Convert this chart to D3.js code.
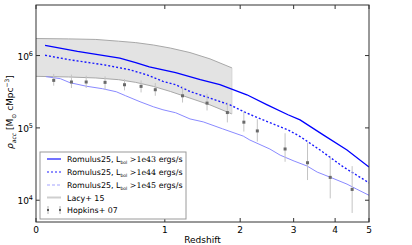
<!DOCTYPE html>
<html><head><meta charset="utf-8">
<script src="https://cdn.jsdelivr.net/npm/d3@7"></script>
<style>body{margin:0;background:#fff}svg{display:block}text{font-family:"DejaVu Sans",sans-serif;fill:#000}</style>
</head><body><svg id="c" width="412" height="245"></svg>
<script>
// ---- data ----
const xTicks = [0, 1, 2, 3, 4, 5];
const yTicks = [1e4, 1e5, 1e6];
const yTickExp = ["4", "5", "6"];

const romZ43 = [0.05,0.25,0.57,0.71,0.84,1.12,1.42,1.69,2.11,2.47,2.88,3.14,3.69,4.33,5.0];
const romV43 = [1.38e6,1.14e6,9.2e5,8.0e5,7.0e5,5.8e5,4.64e5,3.95e5,2.87e5,2.08e5,1.52e5,1.29e5,8.0e4,4.95e4,2.87e4];

const romZ44 = [0.05,0.19,0.43,0.65,0.81,0.98,1.12,1.29,1.55,1.84,2.11,2.47,2.88,3.14,3.61,4.22,5.0];
const romV44 = [1.01e6,8.8e5,7.5e5,6.4e5,5.45e5,4.4e5,3.95e5,3.19e5,2.58e5,2.08e5,1.6e5,1.22e5,9.4e4,7.6e4,4.95e4,2.9e4,1.74e4];

const romZ45 = [0.055,0.14,0.20,0.31,0.43,0.54,0.62,0.75,0.88,0.98,1.12,1.29,1.46,1.73,2.05,2.16,2.52,2.72,3.01,3.30,3.54,3.86,4.33,4.62,5.0];
const romV45 = [5.11e5,4.79e5,4.22e5,3.77e5,3.48e5,3.16e5,2.78e5,2.30e5,1.96e5,1.78e5,1.62e5,1.33e5,1.21e5,9.7e4,7.7e4,6.8e4,5.1e4,4.2e4,3.48e4,2.97e4,2.45e4,2.09e4,1.67e4,1.42e4,1.17e4];

const lacyZ  = [0,0.19,0.38,0.56,0.71,0.88,1.06,1.29,1.55,1.87];
const lacyHi = [1.72e6,1.70e6,1.67e6,1.58e6,1.51e6,1.40e6,1.27e6,1.10e6,9.0e5,6.75e5];
const lacyLo = [5.16e5,5.06e5,4.90e5,4.64e5,4.26e5,3.75e5,3.19e5,2.58e5,2.08e5,1.56e5];

const hopZ  = [0.10,0.21,0.31,0.45,0.61,0.76,0.90,1.20,1.51,1.80,2.06,2.29,2.82,3.31,3.87,4.48];
const hopV  = [4.54e5,4.31e5,4.31e5,4.26e5,3.95e5,3.75e5,3.37e5,2.78e5,2.20e5,1.63e5,1.20e5,9.08e4,5.11e4,3.30e4,2.07e4,1.41e4];
const hopHi = [5.57e5,5.45e5,5.27e5,5.16e5,4.74e5,4.54e5,4.18e5,3.75e5,2.97e5,2.24e5,1.68e5,1.32e5,8.43e4,6.25e4,3.99e4,2.96e4];
const hopLo = [3.83e5,3.56e5,3.56e5,3.37e5,3.30e5,3.09e5,2.78e5,2.24e5,1.74e5,1.19e5,8.89e4,6.46e4,3.40e4,1.90e4,1.06e4,6.67e3];

const legendThr = ["1e43", "1e44", "1e45"];

// ---- layout ----
const L = 36, R = 369, T = 5, B = 222;
const svg = d3.select("#c");
const x = d3.scaleLog().domain([1, 6]).range([L, R]);   // x(1+z)
const y = d3.scaleLog().domain([5e3, 5e6]).range([B, T]);
const X = z => x(1 + z);

const plot = svg.append("g");
plot.append("defs").append("clipPath").attr("id", "clip")
  .append("rect").attr("x", L).attr("y", T).attr("width", R - L).attr("height", B - T);
const g = plot.append("g").attr("clip-path", "url(#clip)");

// Lacy band
const band = lacyZ.map((z, i) => ({ z, hi: lacyHi[i], lo: lacyLo[i] }));
g.append("path").datum(band)
  .attr("d", d3.area().x(d => X(d.z)).y0(d => y(d.lo)).y1(d => y(d.hi)))
  .attr("fill", "#e3e3e3").attr("stroke", "none");
["hi", "lo"].forEach(k => {
  g.append("path").datum(band)
    .attr("d", d3.line().x(d => X(d.z)).y(d => y(d[k])))
    .attr("fill", "none").attr("stroke", "#a8a8a8").attr("stroke-width", 1);
});
g.append("line").attr("x1", X(lacyZ[lacyZ.length - 1])).attr("x2", X(lacyZ[lacyZ.length - 1]))
  .attr("y1", y(lacyHi[lacyHi.length - 1])).attr("y2", y(lacyLo[lacyLo.length - 1]))
  .attr("stroke", "#d0d0d0").attr("stroke-width", 0.8);

// Romulus lines
const line = d3.line().x(d => X(d[0])).y(d => y(d[1]));
const series = [
  { z: romZ45, v: romV45, color: "#8a8aff", w: 1, dash: null },
  { z: romZ44, v: romV44, color: "#1a1aff", w: 1.4, dash: "2,2" },
  { z: romZ43, v: romV43, color: "#0000ff", w: 1.3, dash: null }
];
series.forEach(s => {
  g.append("path").datum(s.z.map((z, i) => [z, s.v[i]]))
    .attr("d", line).attr("fill", "none").attr("stroke", s.color)
    .attr("stroke-width", s.w).attr("stroke-dasharray", s.dash);
});

// Hopkins error bars
const hop = hopZ.map((z, i) => ({ z, v: hopV[i], hi: hopHi[i], lo: hopLo[i] }));
g.selectAll(".eb").data(hop).enter().append("line")
  .attr("x1", d => X(d.z)).attr("x2", d => X(d.z))
  .attr("y1", d => y(d.hi)).attr("y2", d => y(d.lo))
  .attr("stroke", "#c4c4c4").attr("stroke-width", 1);
g.selectAll(".pt").data(hop).enter().append("rect")
  .attr("x", d => X(d.z) - 1.5).attr("y", d => y(d.v) - 1.5)
  .attr("width", 3).attr("height", 3).attr("fill", "#6a6a6a");

// frame
svg.append("rect").attr("x", L).attr("y", T).attr("width", R - L).attr("height", B - T)
  .attr("fill", "none").attr("stroke", "#333").attr("stroke-width", 1);

// ticks (inward, all four sides)
const tk = svg.append("g").attr("stroke", "#333").attr("stroke-width", 1);
xTicks.forEach(t => {
  const px = X(t);
  tk.append("line").attr("x1", px).attr("x2", px).attr("y1", B).attr("y2", B - 4);
  tk.append("line").attr("x1", px).attr("x2", px).attr("y1", T).attr("y2", T + 4);
});
yTicks.forEach(t => {
  const py = y(t);
  tk.append("line").attr("x1", L).attr("x2", L + 4).attr("y1", py).attr("y2", py);
  tk.append("line").attr("x1", R).attr("x2", R - 4).attr("y1", py).attr("y2", py);
});

// tick labels
xTicks.forEach(t => {
  svg.append("text").attr("x", X(t)).attr("y", 233).attr("text-anchor", "middle")
    .attr("font-size", 9).text(t);
});
yTicks.forEach((t, i) => {
  const tx = svg.append("text").attr("x", 33).attr("y", y(t) + 4).attr("text-anchor", "end")
    .attr("font-size", 9);
  tx.append("tspan").text("10");
  tx.append("tspan").attr("dy", -4).attr("font-size", 6.5).text(yTickExp[i]);
});

// axis labels
svg.append("text").attr("x", (L + R) / 2).attr("y", 243).attr("text-anchor", "middle")
  .attr("font-size", 9).text("Redshift");
const yl = svg.append("text").attr("transform", "translate(13,112) rotate(-90)")
  .attr("text-anchor", "middle").attr("font-size", 9);
yl.append("tspan").attr("font-style", "italic").text("ρ");
yl.append("tspan").attr("dy", 2.5).attr("font-size", 6).attr("font-style", "italic").text("acc");
yl.append("tspan").attr("dy", -2.5).text(" [M");
yl.append("tspan").attr("dy", 2.5).attr("font-size", 6).text("⊙");
yl.append("tspan").attr("dy", -2.5).text(" cMpc");
yl.append("tspan").attr("dy", -4).attr("font-size", 6).text("−3");
yl.append("tspan").attr("dy", 4).text("]");

// legend
const lg = svg.append("g");
lg.append("rect").attr("x", 40).attr("y", 152).attr("width", 146).attr("height", 67)
  .attr("fill", "#fff").attr("stroke", "#9a9a9a").attr("stroke-width", 1);
const rows = [159, 172, 185, 197.5, 210];
const hStyles = [
  { color: "#5050ff", w: 1.6, dash: null },
  { color: "#6a6aff", w: 1.6, dash: "2,2" },
  { color: "#c2c2ff", w: 1.6, dash: "3,2" }
];
hStyles.forEach((s, i) => {
  lg.append("line").attr("x1", 47).attr("x2", 61).attr("y1", rows[i]).attr("y2", rows[i])
    .attr("stroke", s.color).attr("stroke-width", s.w).attr("stroke-dasharray", s.dash);
  const t = lg.append("text").attr("x", 67).attr("y", rows[i] + 3).attr("font-size", 7.9);
  t.append("tspan").text("Romulus25, L");
  t.append("tspan").attr("dy", 1.5).attr("font-size", 4.5).text("bol");
  t.append("tspan").attr("dy", -1.5).attr("font-family", "DejaVu Serif").text(" >" + legendThr[i]);
  t.append("tspan").text(" ergs/s");
});
lg.append("line").attr("x1", 47).attr("x2", 61).attr("y1", rows[3]).attr("y2", rows[3])
  .attr("stroke", "#cfcfcf").attr("stroke-width", 2);
lg.append("text").attr("x", 67).attr("y", rows[3] + 3).attr("font-size", 7.9).text("Lacy+ 15");
[48, 60].forEach(px => {
  lg.append("line").attr("x1", px).attr("x2", px).attr("y1", rows[4] - 4).attr("y2", rows[4] + 4)
    .attr("stroke", "#b0b0b0").attr("stroke-width", 1);
  lg.append("rect").attr("x", px - 1).attr("y", rows[4] - 1).attr("width", 2).attr("height", 2)
    .attr("fill", "#555");
});
lg.append("text").attr("x", 67).attr("y", rows[4] + 3).attr("font-size", 7.9).text("Hopkins+ 07");
</script></body></html>
